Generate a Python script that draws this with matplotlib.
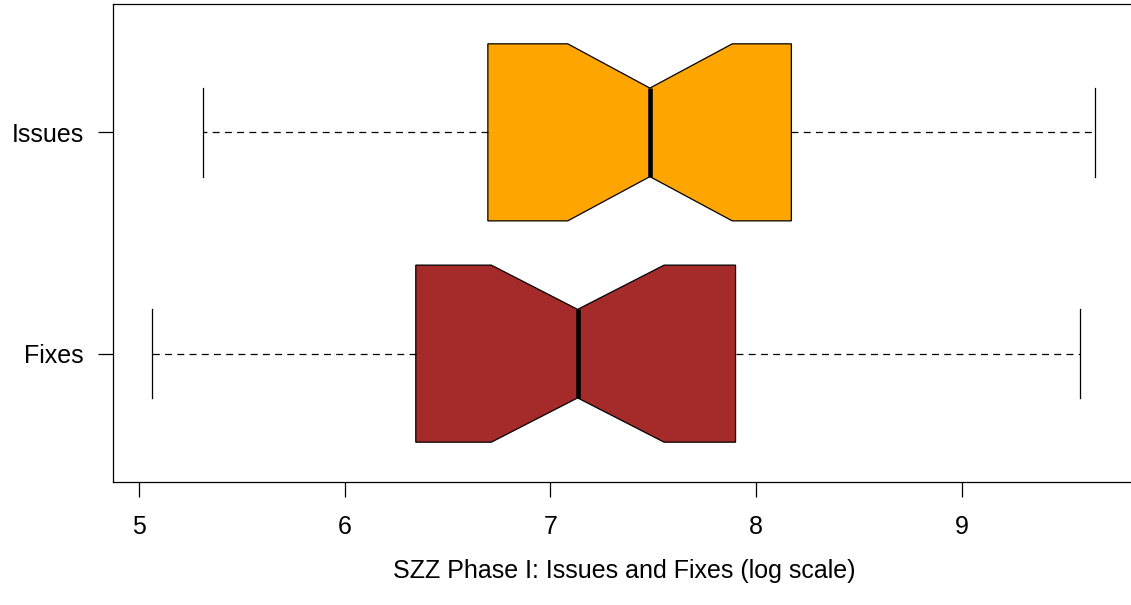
import matplotlib
matplotlib.use("Agg")
import matplotlib.pyplot as plt

# Data (log scale values)
groups = ["Fixes", "Issues"]
whislo = [5.063, 5.313]
q1 = [6.346, 6.696]
cilo = [6.713, 7.084]
med = [7.132, 7.483]
cihi = [7.552, 7.883]
q3 = [7.899, 8.170]
whishi = [9.570, 9.645]
colors = ["#A52A2A", "#FFA500"]
xticks = [5, 6, 7, 8, 9]
xlabel = "SZZ Phase I: Issues and Fixes (log scale)"

plt.rcParams['font.family'] = ['Liberation Sans', 'DejaVu Sans']
plt.rcParams['lines.scale_dashes'] = False

fig = plt.figure(figsize=(11.31, 6.05), dpi=100)
ax = fig.add_axes([112.7 / 1131, 1 - 482 / 605, (1135 - 112.7) / 1131, (482 - 4) / 605])

stats = []
for i, g in enumerate(groups):
    stats.append(dict(label=g, whislo=whislo[i], q1=q1[i], cilo=cilo[i], med=med[i],
                      cihi=cihi[i], q3=q3[i], whishi=whishi[i], fliers=[]))

bp = ax.bxp(stats, positions=[1, 2], widths=0.8, orientation='horizontal',
            shownotches=True, patch_artist=True, showfliers=False,
            boxprops=dict(linewidth=0.9, edgecolor='black'),
            whiskerprops=dict(linewidth=0.9, color='black', linestyle=(0, (5.0, 3.8))),
            capprops=dict(linewidth=0.9, color='black'),
            medianprops=dict(linewidth=3.3, color='black', solid_capstyle='butt'))
for patch, c in zip(bp['boxes'], colors):
    patch.set_facecolor(c)

ax.set_xlim(4.874, 9.839)
ax.set_ylim(0.42, 2.58)
ax.set_xticks(xticks)
ax.set_xticklabels([str(t) for t in xticks])
ax.set_yticks([1, 2])
ax.set_yticklabels(groups)
ax.tick_params(axis='x', length=10.6, width=0.9, pad=13.5, labelsize=18)
ax.tick_params(axis='y', length=10.6, width=0.9, pad=10, labelsize=18)
for s in ax.spines.values():
    s.set_linewidth(0.9)
ax.spines['right'].set_visible(False)

fig.text((112.7 + 1135) / 2 / 1131, 1 - 578 / 605, xlabel, ha='center', va='baseline', fontsize=18)

fig.savefig("out.png", dpi=100)
